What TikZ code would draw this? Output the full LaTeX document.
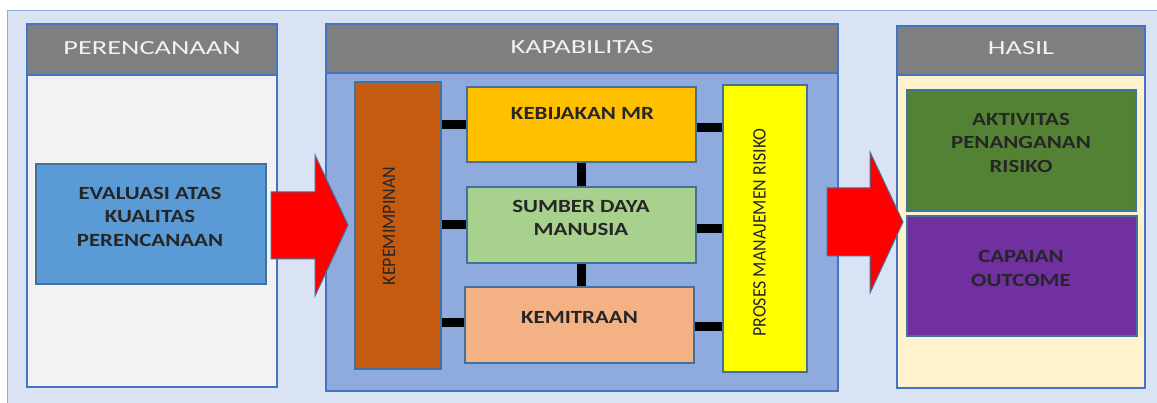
\documentclass[tikz,border=0pt]{standalone}
\usepackage{fontspec}
\setmainfont{Carlito}
\newfontfamily\hdrfont{Carlito}[FakeStretch=1.42]
\newfontfamily\boxfont{Carlito}[FakeStretch=1.23]
\newfontfamily\vfont{Carlito}[FakeStretch=0.94]
\definecolor{bgblue}{HTML}{DAE3F3}
\definecolor{bgline}{HTML}{8FAADC}
\definecolor{panelline}{HTML}{4472C4}
\definecolor{boxline}{HTML}{41719C}
\definecolor{hdrgray}{HTML}{7F7F7F}
\definecolor{hdrtext}{HTML}{F2F2F2}
\definecolor{txtdark}{HTML}{262626}
\definecolor{planfill}{HTML}{F2F2F2}
\definecolor{kapfill}{HTML}{8FAADC}
\definecolor{hasfill}{HTML}{FFF2CC}
\definecolor{evalfill}{HTML}{5B9BD5}
\definecolor{kepfill}{HTML}{C55A11}
\definecolor{kebfill}{HTML}{FFC000}
\definecolor{sdmfill}{HTML}{A9D18E}
\definecolor{kemfill}{HTML}{F4B183}
\definecolor{pmrfill}{HTML}{FFFF00}
\definecolor{aktfill}{HTML}{548235}
\definecolor{capfill}{HTML}{7030A0}
\definecolor{arrred}{HTML}{FF0000}
\begin{document}
\begin{tikzpicture}[x=1pt,y=-1pt,
  panel/.style={draw=panelline, line width=1.8pt, inner sep=0pt, rectangle},
  hdr/.style={draw=panelline, line width=1.8pt, fill=hdrgray, inner sep=0pt, rectangle},
  hdrtxt/.style={text=hdrtext, font=\hdrfont\fontsize{20}{24}\selectfont, inner sep=0pt},
  cbox/.style={draw=boxline, line width=1.2pt, inner sep=0pt, rectangle},
  boxtxt/.style={text=txtdark, align=center, inner sep=0pt, font=\boxfont\bfseries\fontsize{18.6}{23.5}\selectfont},
  vtxt/.style={text=txtdark, rotate=90, inner sep=0pt, font=\vfont\fontsize{19}{23}\selectfont},
  link/.style={line width=9pt, black},
  bigarrow/.style={fill=arrred, draw=boxline, line width=1pt}
]
\useasboundingbox (0,0) rectangle (1157,403);
\fill[white] (0,0) rectangle (1157,403);
\draw[fill=bgblue, draw=bgline, line width=1pt] (7,11) rectangle (1170,420);

% panels
\node[panel, fill=planfill, minimum width=250pt, minimum height=363pt] (plan) at (152,205.5) {};
\node[hdr, minimum width=250pt, minimum height=51pt] (planhdr) at (152,49.5) {};
\node[hdrtxt] (planlbl) at (152,48.5) {PERENCANAAN};

\node[panel, fill=kapfill, minimum width=512pt, minimum height=367pt] (kap) at (582,207.5) {};
\node[hdr, minimum width=512pt, minimum height=49pt] (kaphdr) at (582,48.5) {};
\node[hdrtxt] (kaplbl) at (582,47.5) {KAPABILITAS};

\node[panel, fill=hasfill, minimum width=248pt, minimum height=362pt] (has) at (1021,207) {};
\node[hdr, minimum width=248pt, minimum height=49pt] (hashdr) at (1021,50.5) {};
\node[hdrtxt] (haslbl) at (1021,48.5) {HASIL};

% arrows
\draw[bigarrow] (271,192) -- (315,192) -- (315,155) -- (348,225) -- (315,296) -- (315,259) -- (271,259) -- cycle;
\draw[bigarrow] (827,188) -- (870,188) -- (870,152) -- (903,222) -- (870,293) -- (870,256) -- (827,256) -- cycle;

% boxes
\node[cbox, fill=evalfill, minimum width=230pt, minimum height=120pt] (eval) at (151,224) {};
\node[boxtxt] (evaltxt) at (150,216.5) {EVALUASI ATAS\\KUALITAS\\PERENCANAAN};

\node[cbox, fill=kepfill, minimum width=86pt, minimum height=287pt] (kep) at (398,225.5) {};
\node[vtxt] (keptxt) at (389,226) {KEPEMIMPINAN};

\node[cbox, fill=kebfill, minimum width=229pt, minimum height=75pt] (keb) at (581.5,124.5) {};
\node[boxtxt] (kebtxt) at (582.5,113.5) {KEBIJAKAN MR};

\node[cbox, fill=sdmfill, minimum width=229pt, minimum height=76pt] (sdm) at (581.5,225) {};
\node[boxtxt] (sdmtxt) at (581,218) {SUMBER DAYA\\MANUSIA};

\node[cbox, fill=kemfill, minimum width=229pt, minimum height=76pt] (kem) at (579.5,325) {};
\node[boxtxt] (kemtxt) at (579.5,317) {KEMITRAAN};

\node[cbox, fill=pmrfill, minimum width=84pt, minimum height=287pt] (pmr) at (765,228.5) {};
\node[vtxt] (pmrtxt) at (759.5,232.5) {PROSES MANAJEMEN RISIKO};

\node[cbox, fill=aktfill, minimum width=229pt, minimum height=121pt] (akt) at (1021.5,150.5) {};
\node[boxtxt] (akttxt) at (1021,142.5) {AKTIVITAS\\PENANGANAN\\RISIKO};

\node[cbox, fill=capfill, minimum width=230pt, minimum height=120pt] (cap) at (1022,276) {};
\node[boxtxt] (captxt) at (1021,268.5) {CAPAIAN\\OUTCOME};

% connectors
\draw[link] (keb.west) -- (keb.west -| kep.east);
\draw[link] (sdm.west) -- (sdm.west -| kep.east);
\draw[link] ([yshift=2pt]kem.west) -- ([yshift=2pt]kem.west -| kep.east);
\draw[link] ([yshift=-3.5pt]keb.east) -- ([yshift=-3.5pt]keb.east -| pmr.west);
\draw[link] ([yshift=-4pt]sdm.east) -- ([yshift=-4pt]sdm.east -| pmr.west);
\draw[link] ([yshift=-2pt]kem.east) -- ([yshift=-2pt]kem.east -| pmr.west);
\draw[link] (keb.south) -- (sdm.north);
\draw[link] (sdm.south) -- (sdm.south |- kem.north);
\end{tikzpicture}
\end{document}
